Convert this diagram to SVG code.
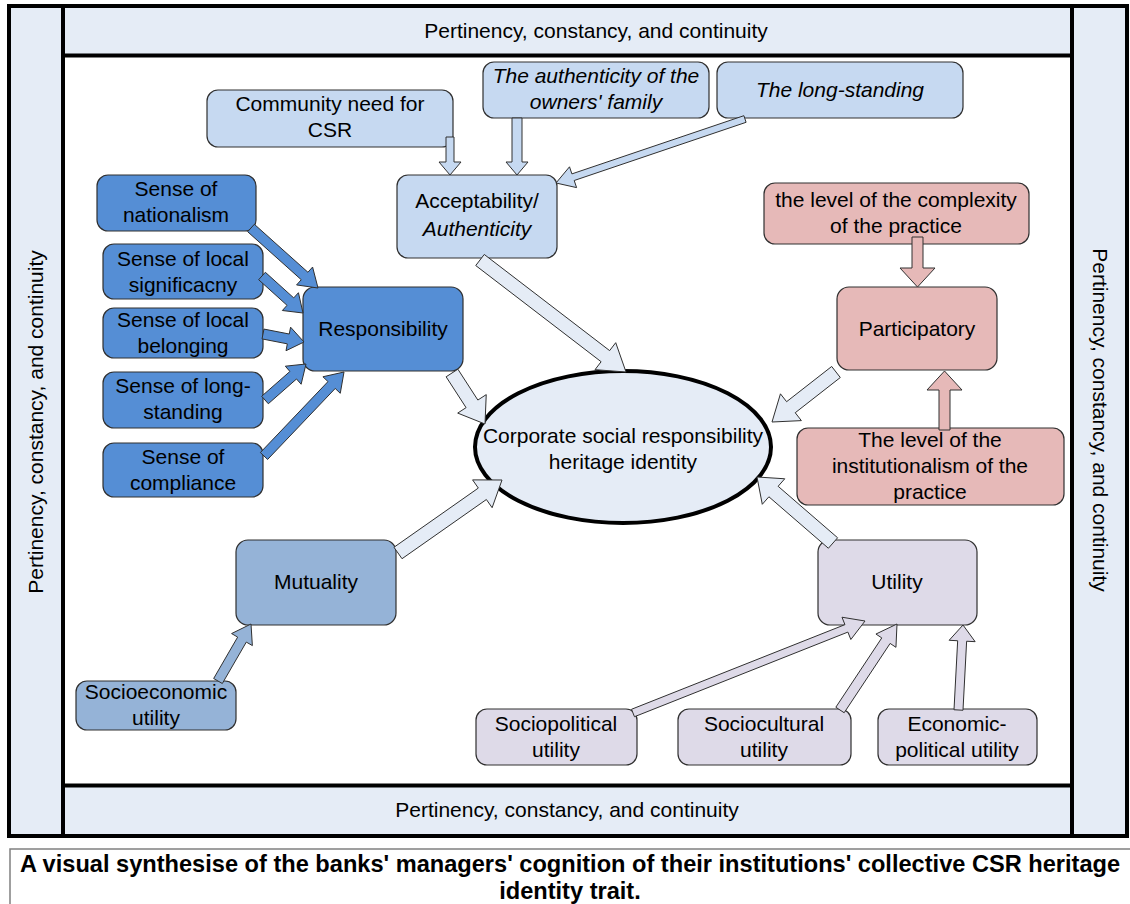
<svg xmlns="http://www.w3.org/2000/svg" width="1130" height="904" viewBox="0 0 1130 904">
<style>
text{font-family:"Liberation Sans",Arial,sans-serif;font-size:21px;fill:#000;text-anchor:middle}
.it{font-style:italic}
.box{stroke:#303030;stroke-width:1.2}
.lb{fill:#c6d9f1}
.db{fill:#558ed5}
.mb{fill:#95b3d7}
.pk{fill:#e6b9b8}
.lv{fill:#dedae8}
.pale{fill:#e5ecf6}
.arr{stroke:#303030;stroke-width:1}
.cap{font-weight:bold;font-size:23.6px}
</style>
<rect width="1130" height="904" fill="#fff"/>
<g id="frame">
<rect x="9" y="6" width="1118" height="830" fill="#e5ecf6" stroke="#000" stroke-width="4"/>
<rect x="63" y="55.5" width="1009" height="730" fill="#fff" stroke="#000" stroke-width="4"/>
<line x1="63" y1="6" x2="63" y2="836" stroke="#000" stroke-width="4"/>
<line x1="1072" y1="6" x2="1072" y2="836" stroke="#000" stroke-width="4"/>
<text x="596" y="38">Pertinency, constancy, and continuity</text>
<text x="567" y="817">Pertinency, constancy, and continuity</text>
<text transform="translate(43,422) rotate(-90)">Pertinency, constancy, and continuity</text>
<text transform="translate(1093,420) rotate(90)">Pertinency, constancy, and continuity</text>
</g>
<g id="n-community"><rect class="box lb" x="207" y="90" width="246" height="57" rx="11"/><text x="330" y="111">Community need for</text><text x="330" y="137">CSR</text></g>
<g id="n-owners"><rect class="box lb" x="483" y="62" width="226" height="56" rx="11"/><text class="it" x="596" y="83">The authenticity of the</text><text class="it" x="596" y="109">owners' family</text></g>
<g id="n-longstanding"><rect class="box lb" x="717" y="62" width="246" height="56" rx="11"/><text class="it" x="840" y="97">The long-standing</text></g>
<g id="n-acceptability"><rect class="box lb" x="397" y="175" width="160" height="83" rx="11"/><text x="477" y="208">Acceptability/</text><text class="it" x="477" y="236">Authenticity</text></g>
<g id="n-nationalism"><rect class="box db" x="97" y="175" width="159" height="56" rx="11"/><text x="176" y="196">Sense of</text><text x="176" y="222">nationalism</text></g>
<g id="n-significance"><rect class="box db" x="103" y="244" width="160" height="55" rx="11"/><text x="183" y="266">Sense of local</text><text x="183" y="292">significacny</text></g>
<g id="n-belonging"><rect class="box db" x="103" y="308" width="160" height="50" rx="11"/><text x="183" y="327">Sense of local</text><text x="183" y="353">belonging</text></g>
<g id="n-senselong"><rect class="box db" x="103" y="372" width="160" height="56" rx="11"/><text x="183" y="393">Sense of long-</text><text x="183" y="419">standing</text></g>
<g id="n-compliance"><rect class="box db" x="103" y="443" width="160" height="54" rx="11"/><text x="183" y="464">Sense of</text><text x="183" y="490">compliance</text></g>
<g id="n-responsibility"><rect class="box db" x="303" y="287" width="160" height="84" rx="12"/><text x="383" y="336">Responsibility</text></g>
<g id="n-csr"><ellipse cx="623" cy="447" rx="148" ry="76" fill="#e5ecf6" stroke="#000" stroke-width="4"/><text x="623" y="443">Corporate social responsibility</text><text x="623" y="469">heritage identity</text></g>
<g id="n-complexity"><rect class="box pk" x="764" y="183" width="265" height="61" rx="11"/><text x="896" y="207">the level of the complexity</text><text x="896" y="233">of the practice</text></g>
<g id="n-participatory"><rect class="box pk" x="837" y="287" width="160" height="83" rx="12"/><text x="917" y="336">Participatory</text></g>
<g id="n-institutionalism"><rect class="box pk" x="797" y="428" width="267" height="77" rx="11"/><text x="930" y="447">The level of the</text><text x="930" y="473">institutionalism of the</text><text x="930" y="499">practice</text></g>
<g id="n-mutuality"><rect class="box mb" x="236" y="540" width="160" height="85" rx="12"/><text x="316" y="589">Mutuality</text></g>
<g id="n-socioeconomic"><rect class="box mb" x="76" y="681" width="160" height="49" rx="11"/><text x="156" y="699">Socioeconomic</text><text x="156" y="725">utility</text></g>
<g id="n-utility"><rect class="box lv" x="818" y="540" width="159" height="85" rx="12"/><text x="897" y="589">Utility</text></g>
<g id="n-sociopolitical"><rect class="box lv" x="476" y="709" width="161" height="56" rx="11"/><text x="556" y="731">Sociopolitical</text><text x="556" y="757">utility</text></g>
<g id="n-sociocultural"><rect class="box lv" x="678" y="709" width="173" height="56" rx="11"/><text x="764" y="731">Sociocultural</text><text x="764" y="757">utility</text></g>
<g id="n-econpol"><rect class="box lv" x="878" y="709" width="159" height="56" rx="11"/><text x="957" y="731">Economic-</text><text x="957" y="757">political utility</text></g>
<g id="connectors">
<polygon class="arr lb" points="454,137 454,162 461,162 450,175 439,162 446,162 446,137"/>
<polygon class="arr lb" points="522,118 522,162 528,162 517,175 506,162 512,162 512,118"/>
<polygon class="arr lb" points="743.9,115.7 571.9,173.9 569.5,166.8 556,183 576.6,187.6 574.2,180.5 746.1,122.3"/>
<polygon class="arr pale" points="475.74,265.55 601.11,361.72 595.02,369.66 626,372 615.72,342.68 609.63,350.62 484.26,254.45"/>
<polygon class="arr db" points="247.66,231.73 301.25,279.72 296.59,284.93 318,288 312.59,267.05 307.93,272.26 254.34,224.27"/>
<polygon class="arr db" points="258.65,279.71 287.04,305.32 282.35,310.51 303,313 298.43,292.71 293.74,297.9 265.35,272.29"/>
<polygon class="arr db" points="262.04,338.91 287.34,343.85 286,350.72 304,342 290.6,327.16 289.26,334.03 263.96,329.09"/>
<polygon class="arr db" points="268.3,403.76 296.52,378.98 301.14,384.24 306,364 285.3,366.2 289.92,371.46 261.7,396.24"/>
<polygon class="arr db" points="267.62,459.45 335.21,388.48 340.28,393.31 344,372 322.9,376.75 327.97,381.58 260.38,452.55"/>
<polygon class="arr pale" points="446.12,376.8 466.09,407.65 457.7,413.08 485,424 486.24,394.62 477.85,400.05 457.88,369.2"/>
<polygon class="arr pale" points="402.02,558.73 486.38,499.52 492.13,507.7 502,480 472.59,479.88 478.34,488.06 393.98,547.27"/>
<polygon class="arr mb" points="222.33,683.5 246.31,642.08 252.37,645.59 251,624 231.59,633.57 237.65,637.08 213.67,678.5"/>
<polygon class="arr pale" points="831.69,366.48 786.6,401.7 780.44,393.82 772,422 801.38,420.62 795.22,412.74 840.31,377.52"/>
<polygon class="arr pk" points="923,237 923,268 935,268 917.5,287 900,268 912,268 912,237"/>
<polygon class="arr pk" points="950,430 950,390 962,390 944.5,371 927,390 939,390 939,430"/>
<polygon class="arr pale" points="837.62,537.75 778.14,486.29 784.75,478.78 757,477 762.29,504.3 768.9,496.79 828.38,548.25"/>
<polygon class="arr lv" points="634.47,716.72 847.88,632.09 850.83,639.52 865,621 841.99,617.22 844.94,624.65 631.53,709.28"/>
<polygon class="arr lv" points="844.17,712.76 890.12,643.43 895.95,647.3 897,624 875.95,634.04 881.78,637.91 835.83,707.24"/>
<polygon class="arr lv" points="962.99,710.24 966.64,641.22 975.13,641.67 963,625 949.17,640.29 957.66,640.74 954.01,709.76"/>
</g>
<g id="caption">
<rect x="10" y="849" width="1125" height="60" fill="#fff" stroke="#808080" stroke-width="1.5"/>
<text class="cap" x="570" y="872">A visual synthesise of the banks' managers' cognition of their institutions' collective CSR heritage</text>
<text class="cap" x="570" y="899">identity trait.</text>
</g>
</svg>
